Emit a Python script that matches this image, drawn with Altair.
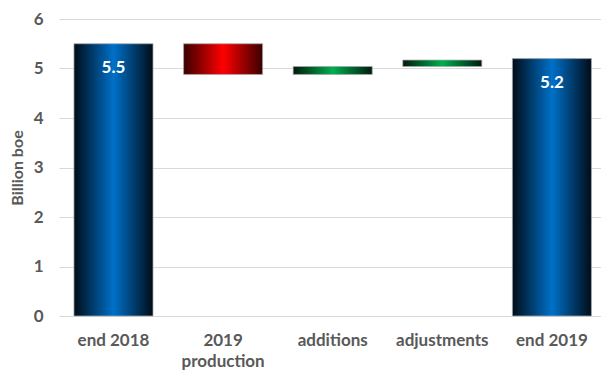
import altair as alt
import pandas as pd

categories = ["end 2018", "2019 production", "additions", "adjustments", "end 2019"]
starts = [0.0, 5.5, 4.88, 5.04, 0.0]
ends = [5.5, 4.88, 5.04, 5.17, 5.2]
kinds = ["total", "down", "up", "up", "total"]
labels = ["5.5", "", "", "", "5.2"]

df = pd.DataFrame({"cat": categories, "start": starts, "end": ends, "kind": kinds, "label": labels})

FONT = "Lato"
GRAY = "#595959"

def grad(edge, center):
    return alt.Gradient(
        gradient="linear",
        stops=[alt.GradientStop(color=edge, offset=0),
               alt.GradientStop(color=center, offset=0.5),
               alt.GradientStop(color=edge, offset=1)],
        x1=0, x2=1, y1=0, y2=0,
    )

xenc = alt.X("cat:N", sort=categories, title=None,
             scale=alt.Scale(paddingInner=0.279, paddingOuter=0.112, align=0.61),
             axis=alt.Axis(labelAngle=0, labelFont=FONT, labelFontSize=17, labelFontWeight="bold",
                           labelColor=GRAY, labelPadding=16, ticks=False, domain=False,
                           labelLineHeight=21,
                           labelExpr="datum.value == '2019 production' ? ['2019', 'production'] : datum.label"))
yenc = alt.Y("start:Q", title="Billion boe",
             scale=alt.Scale(domain=[0, 6], nice=False),
             axis=alt.Axis(values=[0, 1, 2, 3, 4, 5, 6], labelFont=FONT, labelFontSize=17,
                           labelFontWeight="bold", labelColor=GRAY, labelPadding=16,
                           ticks=False, domain=False, gridColor="#d9d9d9", gridWidth=1,
                           titleFont=FONT, titleFontSize=16, titleFontWeight="bold",
                           titleColor=GRAY, titlePadding=8))

base = alt.Chart(df)

def bars(kind, edge, center):
    return base.transform_filter(alt.datum.kind == kind).mark_bar(
        color=grad(edge, center), stroke="#a6a6a6", strokeWidth=0.75
    ).encode(x=xenc, y=yenc, y2="end:Q")

blue = bars("total", "#000c18", "#0070c8")
red = bars("down", "#3a0000", "#ff0000")
green = bars("up", "#001a0c", "#00b050")

text = base.transform_filter(alt.datum.label != "").mark_text(
    color="white", font=FONT, fontSize=17, fontWeight="bold", dy=24
).encode(x=alt.X("cat:N", sort=categories), y=alt.Y("end:Q"), text="label:N")

chart = alt.layer(blue, red, green, text).properties(
    width=542, height=297,
    autosize=alt.AutoSizeParams(type="none"),
    padding={"left": 59, "top": 19, "right": 0, "bottom": 56},
).configure_view(stroke=None)

chart.save("out.html", embed_options={"renderer": "svg", "actions": False})
